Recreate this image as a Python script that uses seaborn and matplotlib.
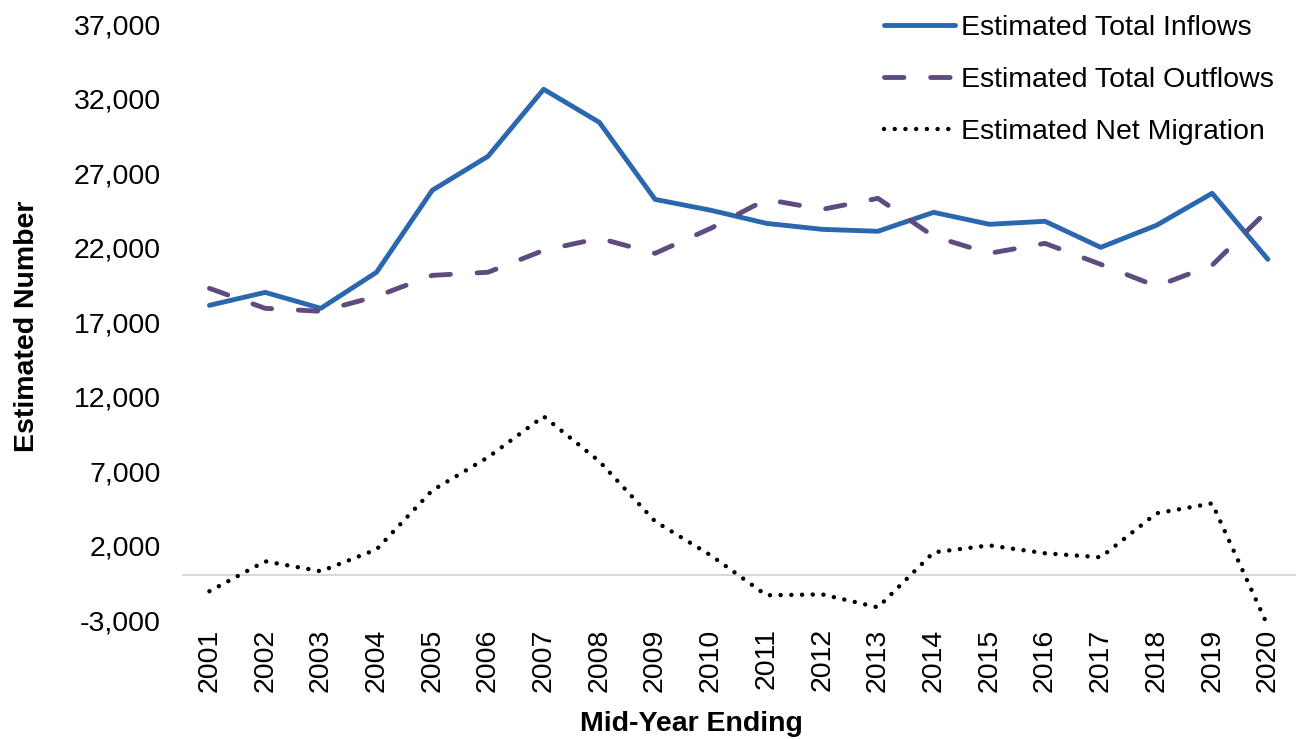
import pandas as pd
import seaborn as sns
import matplotlib.pyplot as plt
from matplotlib.ticker import FuncFormatter

# Values
years = [str(y) for y in range(2001, 2021)]
inflows = [18120, 18990, 17920, 20340, 25840, 28120, 32620, 30400, 25230, 24500,
           23620, 23220, 23090, 24360, 23560, 23760, 22010, 23490, 25640, 21210]
outflows = [19260, 17920, 17720, 18720, 20130, 20340, 21810, 22620, 21610, 23290,
            25230, 24560, 25300, 22750, 21610, 22280, 20870, 19400, 20810, 24500]
net = [-1070, 940, 270, 1740, 5700, 7920, 10670, 7650, 3620, 1340,
       -1340, -1280, -2150, 1540, 2010, 1480, 1210, 4160, 4830, -3400]

df = pd.DataFrame({'year': years, 'inflows': inflows,
                   'outflows': outflows, 'net': net})

sns.set_style('white')
plt.rcParams['font.family'] = ['Liberation Sans', 'DejaVu Sans']
plt.rcParams['text.color'] = 'black'
plt.rcParams['axes.labelcolor'] = 'black'

FS = 20.5

fig = plt.figure(figsize=(12.97, 7.39), dpi=100)
ax = fig.add_axes([0.140, 0.161, 0.859, 0.8065])

sns.lineplot(data=df, x='year', y='inflows', ax=ax, color='#2A67AF',
             linewidth=3.5, label='Estimated Total Inflows')
sns.lineplot(data=df, x='year', y='outflows', ax=ax, color='#5E4B80',
             linewidth=3.5, label='Estimated Total Outflows')
sns.lineplot(data=df, x='year', y='net', ax=ax, color='black',
             linewidth=3.2, label='Estimated Net Migration')

lines = ax.get_lines()
lines[1].set_dashes([4, 5.5])
lines[1].set_dash_capstyle('round')
lines[2].set_dashes([0.01, 2.4])
lines[2].set_dash_capstyle('round')
lines[2].set_clip_on(False)

ax.axhline(0, color='#d9d9d9', linewidth=1.5, zorder=0)

ax.set_xlim(-0.5, len(years) - 0.5)
ax.set_ylim(-3000, 37000)
ax.set_yticks(range(-3000, 37001, 5000))
ax.yaxis.set_major_formatter(FuncFormatter(lambda v, p: f'{int(v):,}'))
ax.tick_params(axis='both', labelsize=FS, length=0, colors='black')
ax.tick_params(axis='y', pad=15)
ax.tick_params(axis='x', pad=6)
plt.setp(ax.get_xticklabels(), rotation=90)

for s in ax.spines.values():
    s.set_visible(False)

ax.set_xlabel('Mid-Year Ending', fontsize=FS, fontweight='bold')
ax.xaxis.set_label_coords(0.458, -0.153)
ax.set_ylabel('Estimated Number', fontsize=FS, fontweight='bold')
ax.yaxis.set_label_coords(-0.127, 0.493)

leg = ax.legend(loc='upper left', bbox_to_anchor=(0.6816, 0.98),
                bbox_transform=fig.transFigure, frameon=False,
                fontsize=FS, handlelength=2.5, handletextpad=0.2,
                labelspacing=0.92, borderpad=0, borderaxespad=0)
for h in leg.get_lines():
    h.set_dash_capstyle('round')

fig.savefig('out.png', dpi=100)
